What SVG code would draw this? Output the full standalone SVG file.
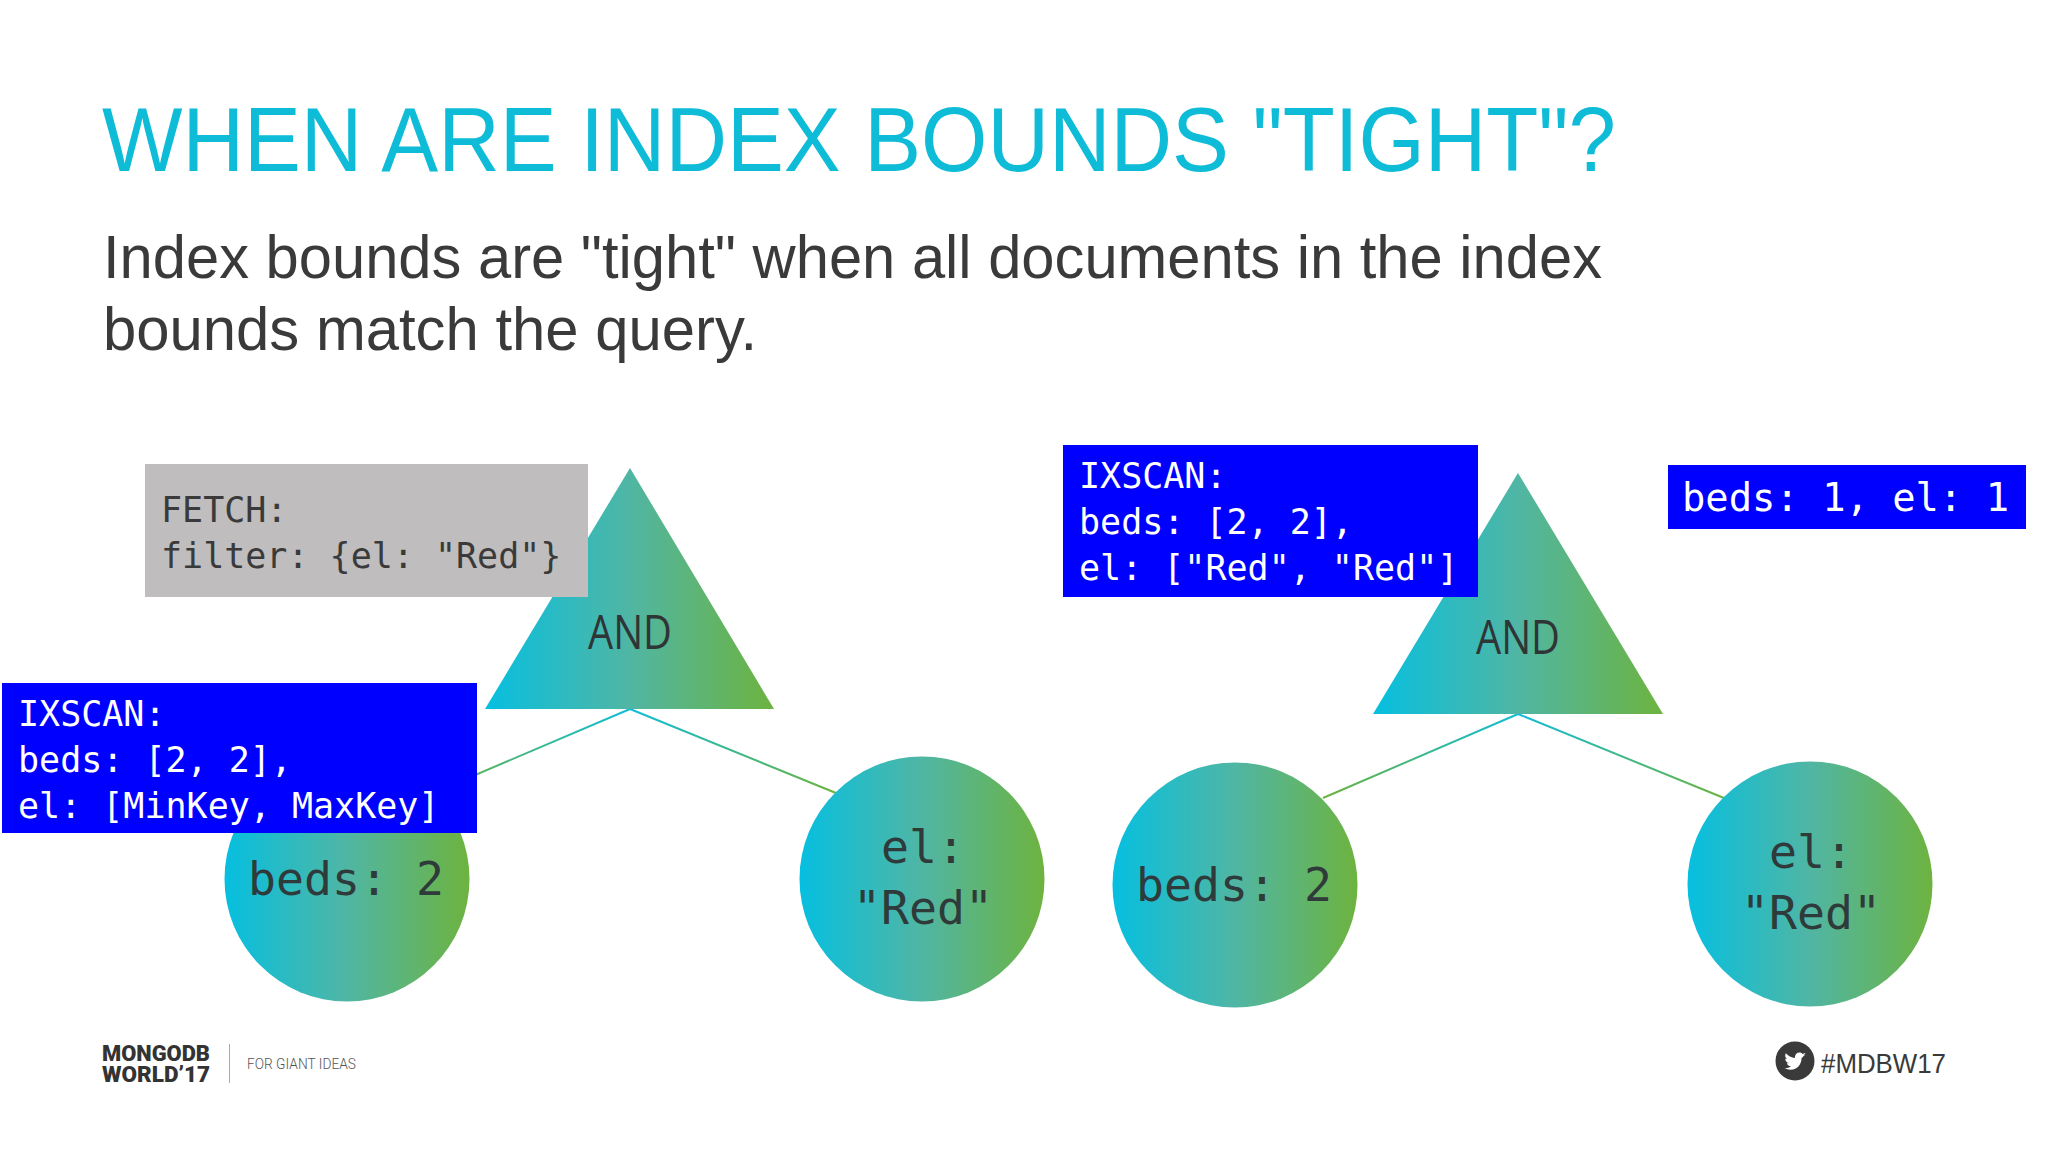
<svg xmlns="http://www.w3.org/2000/svg" width="2048" height="1152" viewBox="0 0 2048 1152">
<style>
.code{font-family:"DejaVu Sans Mono",monospace;font-size:35px}
.node{font-family:"DejaVu Sans Mono",monospace;font-size:46.500px;fill:#2f3a3a;text-anchor:middle}
.and{font-family:"Open Sans",sans-serif;font-size:48px;fill:#2f3536;text-anchor:middle}
.w{fill:#fff}.d{fill:#3a3a3a}
.blue{fill:#0000fe}
.body{font-family:"Liberation Sans",sans-serif;font-size:61px;fill:#3a3a3a}
.g{fill:url(#grad)}
.c{fill:none;stroke-width:2}
.logo{font-family:Roboto,sans-serif;font-weight:900;font-size:22px;fill:#333}
</style>
<defs>
<linearGradient id="grad" x1="0" y1="0" x2="1" y2="0"><stop offset="0" stop-color="#06bfe0"/><stop offset="0.5" stop-color="#50b6a4"/><stop offset="1" stop-color="#6db33f"/></linearGradient>
<linearGradient id="l1" gradientUnits="userSpaceOnUse" x1="630" y1="709" x2="433" y2="793"><stop offset="0" stop-color="#10bdd8"/><stop offset="1" stop-color="#6db33f"/></linearGradient>
<linearGradient id="l2" gradientUnits="userSpaceOnUse" x1="630" y1="709" x2="836" y2="793"><stop offset="0" stop-color="#10bdd8"/><stop offset="1" stop-color="#6db33f"/></linearGradient>
<linearGradient id="l3" gradientUnits="userSpaceOnUse" x1="1518" y1="714" x2="1323" y2="798"><stop offset="0" stop-color="#10bdd8"/><stop offset="1" stop-color="#6db33f"/></linearGradient>
<linearGradient id="l4" gradientUnits="userSpaceOnUse" x1="1518" y1="714" x2="1724" y2="798"><stop offset="0" stop-color="#10bdd8"/><stop offset="1" stop-color="#6db33f"/></linearGradient>
</defs>
<rect width="2048" height="1152" fill="#fff"/>
<text x="102" y="171" font-family="Liberation Sans, sans-serif" font-size="90" fill="#0ebcd8" textLength="1514" lengthAdjust="spacingAndGlyphs">WHEN ARE INDEX BOUNDS "TIGHT"?</text>
<text class="body" x="103" y="278" textLength="1499" lengthAdjust="spacingAndGlyphs">Index bounds are "tight" when all documents in the index</text>
<text class="body" x="103" y="350" textLength="654" lengthAdjust="spacingAndGlyphs">bounds match the query.</text>
<g id="connectors">
<line class="c" x1="630" y1="709" x2="433" y2="793" stroke="url(#l1)"/>
<line class="c" x1="630" y1="709" x2="836" y2="793" stroke="url(#l2)"/>
<line class="c" x1="1518" y1="714" x2="1323" y2="798" stroke="url(#l3)"/>
<line class="c" x1="1518" y1="714" x2="1724" y2="798" stroke="url(#l4)"/>
</g>
<g id="and1"><polygon class="g" points="630,468 774,709 485,709"/><text class="and" x="630" y="649" textLength="84" lengthAdjust="spacingAndGlyphs">AND</text></g>
<g id="and2"><polygon class="g" points="1518,473 1663,714 1373,714"/><text class="and" x="1518" y="654" textLength="84" lengthAdjust="spacingAndGlyphs">AND</text></g>
<g id="beds1"><circle class="g" cx="347" cy="879" r="122.500"/><text class="node" x="346" y="895">beds: 2</text></g>
<g id="el1"><circle class="g" cx="922" cy="879" r="122.500"/><text class="node" x="923" y="863">el:</text><text class="node" x="923" y="924">"Red"</text></g>
<g id="beds2"><circle class="g" cx="1235" cy="885" r="122.500"/><text class="node" x="1234" y="901">beds: 2</text></g>
<g id="el2"><circle class="g" cx="1810" cy="884" r="122.500"/><text class="node" x="1811" y="868">el:</text><text class="node" x="1811" y="929">"Red"</text></g>
<g id="fetch"><rect x="145" y="464" width="443" height="133" fill="#bfbdbe"/>
<text class="code d" x="161" y="522">FETCH:</text><text class="code d" x="161" y="568">filter: {el: "Red"}</text></g>
<g id="ixscan1"><rect class="blue" x="2" y="683" width="475" height="150"/>
<text class="code w" x="18" y="726">IXSCAN:</text><text class="code w" x="18" y="772">beds: [2, 2],</text><text class="code w" x="18" y="818">el: [MinKey, MaxKey]</text></g>
<g id="ixscan2"><rect class="blue" x="1063" y="445" width="415" height="152"/>
<text class="code w" x="1079" y="488">IXSCAN:</text><text class="code w" x="1079" y="534">beds: [2, 2],</text><text class="code w" x="1079" y="580">el: ["Red", "Red"]</text></g>
<g id="stats"><rect class="blue" x="1668" y="465" width="358" height="64"/>
<text class="code w" x="1682" y="511" style="font-size:38.800px">beds: 1, el: 1</text></g>
<g id="footer-logo">
<text class="logo" x="102" y="1061" textLength="108" lengthAdjust="spacingAndGlyphs">MONGODB</text>
<text class="logo" x="102" y="1082" textLength="108" lengthAdjust="spacingAndGlyphs">WORLD’17</text>
<rect x="229" y="1044" width="1" height="39" fill="#aaa"/>
<text x="247" y="1069" font-family="Roboto, sans-serif" font-weight="300" font-size="15" fill="#555" textLength="109" lengthAdjust="spacingAndGlyphs">FOR GIANT IDEAS</text>
</g>
<g id="footer-tag">
<circle cx="1795" cy="1061" r="19.500" fill="#3a3a3a"/>
<path fill="#fff" d="M1806 1054.500c-.8.4-1.700.6-2.600.7.900-.5 1.700-1.400 2-2.400-.9.500-1.800.9-2.800 1.100-1.700-1.800-4.500-1.900-6.300-.2-1.100 1.100-1.600 2.600-1.300 4.200-3.600-.2-6.900-1.900-9.200-4.600-1.200 2-.6 4.600 1.400 6-.7 0-1.400-.2-2-.5 0 2.100 1.500 3.900 3.600 4.300-.7.200-1.400.2-2 .1.600 1.800 2.200 3 4.200 3.100-1.800 1.400-4.100 2-6.400 1.800 5.100 3.200 11.900 1.700 15.100-3.400 1.300-2 1.900-4.300 1.800-6.600.9-.7 1.600-1.400 2.100-2.200z"/>
<text x="1821" y="1073" font-family="Liberation Sans, sans-serif" font-size="28" fill="#3a3a3a" textLength="125" lengthAdjust="spacingAndGlyphs">#MDBW17</text>
</g>
</svg>
